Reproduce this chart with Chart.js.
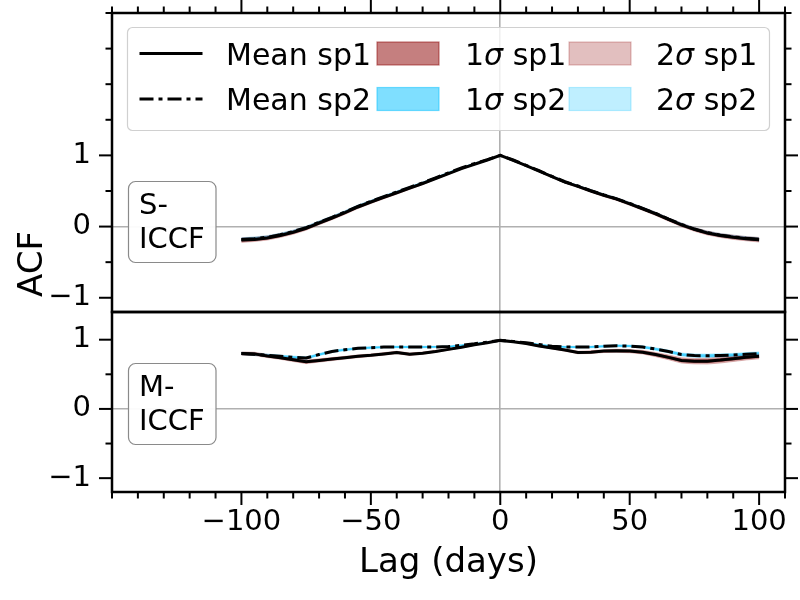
<!DOCTYPE html>
<html>
<head>
<meta charset="utf-8">
<script src="https://cdn.jsdelivr.net/npm/chart.js@4.4.1/dist/chart.umd.min.js"></script>
<style>
  html, body { margin: 0; padding: 0; background: #fff; }
  #wrap { position: relative; width: 800px; height: 600px; }
</style>
</head>
<body>
<div id="wrap"><canvas id="c" width="800" height="600"></canvas></div>
<script>
// ---------------- data ----------------
const lags = [-100,-95,-90,-85,-80,-75,-70,-65,-60,-55,-50,-45,-40,-35,-30,-25,-20,-15,-10,-5,0,
              5,10,15,20,25,30,35,40,45,50,55,60,65,70,75,80,85,90,95,100];

// S-ICCF panel
const sMean1 = [-0.19,-0.18,-0.16,-0.125,-0.08,-0.025,0.05,0.12,0.195,0.275,0.345,0.41,0.475,0.54,0.605,0.675,0.745,0.815,0.875,0.935,1.0,
                0.93,0.855,0.78,0.70,0.625,0.565,0.50,0.44,0.385,0.32,0.25,0.18,0.10,0.025,-0.04,-0.09,-0.125,-0.15,-0.17,-0.185];
const sMean2 = [-0.18,-0.17,-0.15,-0.115,-0.07,-0.015,0.06,0.13,0.205,0.285,0.355,0.42,0.485,0.55,0.615,0.685,0.755,0.825,0.885,0.94,1.0,
                0.935,0.86,0.785,0.705,0.63,0.57,0.505,0.445,0.39,0.325,0.255,0.185,0.105,0.03,-0.035,-0.085,-0.12,-0.145,-0.165,-0.18];
const sSig1 = [0.016,0.015,0.015,0.014,0.014,0.013,0.013,0.012,0.012,0.011,0.011,0.010,0.010,0.009,0.008,0.007,0.006,0.005,0.004,0.002,0.0,
               0.002,0.004,0.005,0.006,0.007,0.008,0.009,0.010,0.010,0.011,0.011,0.012,0.012,0.013,0.013,0.014,0.014,0.015,0.015,0.016];
const sSig2 = [0.012,0.012,0.011,0.011,0.010,0.010,0.010,0.009,0.009,0.009,0.008,0.008,0.008,0.007,0.006,0.005,0.005,0.004,0.003,0.002,0.0,
               0.002,0.003,0.004,0.005,0.005,0.006,0.007,0.008,0.008,0.008,0.009,0.009,0.009,0.010,0.010,0.010,0.011,0.011,0.012,0.012];

// M-ICCF panel
const mMean1 = [0.80,0.795,0.765,0.74,0.71,0.68,0.70,0.72,0.74,0.76,0.775,0.795,0.815,0.79,0.805,0.83,0.86,0.89,0.925,0.955,0.99,
                0.97,0.945,0.91,0.88,0.85,0.815,0.82,0.835,0.84,0.835,0.82,0.785,0.745,0.70,0.69,0.69,0.705,0.725,0.745,0.76];
const mMean2 = [0.80,0.79,0.775,0.76,0.745,0.735,0.785,0.83,0.855,0.875,0.885,0.893,0.895,0.894,0.894,0.896,0.90,0.92,0.94,0.965,0.99,
                0.975,0.955,0.93,0.905,0.895,0.893,0.895,0.905,0.912,0.908,0.895,0.865,0.83,0.785,0.77,0.768,0.772,0.778,0.79,0.80];
const mSig1 = [0.012,0.012,0.012,0.012,0.013,0.013,0.012,0.011,0.010,0.010,0.009,0.009,0.009,0.009,0.008,0.007,0.006,0.005,0.004,0.002,0.0,
               0.003,0.005,0.006,0.007,0.008,0.009,0.010,0.010,0.011,0.012,0.013,0.015,0.017,0.019,0.020,0.021,0.021,0.020,0.019,0.018];
const mSig2 = [0.010,0.010,0.009,0.009,0.009,0.009,0.008,0.008,0.007,0.007,0.007,0.006,0.006,0.006,0.006,0.005,0.005,0.004,0.003,0.002,0.0,
               0.002,0.003,0.004,0.005,0.005,0.006,0.006,0.007,0.007,0.007,0.008,0.009,0.010,0.011,0.012,0.012,0.012,0.012,0.012,0.012];

// ticks
const xMajorTicks = [-100,-50,0,50,100];
const xMinorTicks = [-150,-140,-130,-120,-110,-90,-80,-70,-60,-40,-30,-20,-10,10,20,30,40,60,70,80,90,110];
const yMajorTicks = [-1,0,1];
const sMinorTicks = [-0.5,0.5,1.5,2,2.5,3];
const mMinorTicks = [-0.5,0.5];
const panelNames = [['S-','ICCF'],['M-','ICCF']];
const legendRows = [
  ['Mean sp1','1','sp1','2','sp1'],
  ['Mean sp2','1','sp2','2','sp2']
];

// ---------------- styling ----------------
const RED1 = 'rgba(139,0,0,0.5)', RED2 = 'rgba(139,0,0,0.25)';
const BLUE1 = 'rgba(0,191,255,0.5)', BLUE2 = 'rgba(0,191,255,0.25)';
const DASHDOT = [14,5,4,5];
const FONT = '"DejaVu Sans", "Liberation Sans", sans-serif';

Chart.defaults.font.family = FONT;
Chart.defaults.color = '#000';

function pts(arr) { return lags.map((l, i) => ({x: l, y: arr[i]})); }
function band(mean, sig, k, color, axis, order) {
  const lo = lags.map((l, i) => ({x: l, y: mean[i] - k * sig[i]}));
  const hi = lags.map((l, i) => ({x: l, y: mean[i] + k * sig[i]}));
  return [
    {data: lo, yAxisID: axis, order, borderColor: color, borderWidth: 1, pointRadius: 0, fill: false},
    {data: hi, yAxisID: axis, order, borderColor: color, borderWidth: 1, pointRadius: 0, fill: '-1', backgroundColor: color}
  ];
}
function meanSet(arr, axis, dashed) {
  return {data: pts(arr), yAxisID: axis, order: 0, borderColor: '#000', borderWidth: 3,
          borderDash: dashed ? DASHDOT : [], pointRadius: 0, fill: false, tension: 0};
}

const datasets = [
  ...band(sMean1, sSig1, 2, RED2, 'yS', 3),
  ...band(sMean1, sSig1, 1, RED1, 'yS', 2),
  ...band(sMean2, sSig2, 2, BLUE2, 'yS', 3),
  ...band(sMean2, sSig2, 1, BLUE1, 'yS', 2),
  ...band(mMean1, mSig1, 2, RED2, 'yM', 3),
  ...band(mMean1, mSig1, 1, RED1, 'yM', 2),
  ...band(mMean2, mSig2, 2, BLUE2, 'yM', 3),
  ...band(mMean2, mSig2, 1, BLUE1, 'yM', 2),
  meanSet(sMean1, 'yS', false),
  meanSet(sMean2, 'yS', true),
  meanSet(mMean1, 'yM', false),
  meanSet(mMean2, 'yM', true)
];

const fmt = v => (v < 0 ? '\u2212' + Math.abs(v) : String(v));
const zeroGrid = {
  color: c => (c.tick && c.tick.value === 0 ? '#b0b0b0' : 'rgba(0,0,0,0)'),
  lineWidth: 1.6, drawTicks: false
};
function yScale(min, max, weight, stackWeight) {
  return {
    type: 'linear', position: 'left', stack: 'acf', stackWeight, weight,
    min, max, border: {display: false}, grid: zeroGrid,
    afterBuildTicks: s => { s.ticks = yMajorTicks.map(v => ({value: v})); },
    afterFit: s => { s.width = 112; s.paddingTop = 0; s.paddingBottom = 0; },
    ticks: {padding: 21, font: {size: 29}, callback: fmt, color: '#000'}
  };
}

function line(ctx, x1, y1, x2, y2) { ctx.beginPath(); ctx.moveTo(x1, y1); ctx.lineTo(x2, y2); ctx.stroke(); }
function rrect(ctx, x, y, w, h, r) {
  ctx.beginPath();
  ctx.moveTo(x + r, y); ctx.lineTo(x + w - r, y); ctx.arcTo(x + w, y, x + w, y + r, r);
  ctx.lineTo(x + w, y + h - r); ctx.arcTo(x + w, y + h, x + w - r, y + h, r);
  ctx.lineTo(x + r, y + h); ctx.arcTo(x, y + h, x, y + h - r, r);
  ctx.lineTo(x, y + r); ctx.arcTo(x, y, x + r, y, r); ctx.closePath();
}

const decor = {
  id: 'decor',
  afterDraw(chart) {
    const {ctx} = chart;
    const xs = chart.scales.x, yS = chart.scales.yS, yM = chart.scales.yM;
    const L = chart.chartArea.left, R = chart.chartArea.right;
    const MAJ = 13, MIN = 6.5;
    ctx.save();
    ctx.strokeStyle = '#000';
    // tick marks
    ctx.lineWidth = 2;
    const yTicks = (s, minors) => {
      yMajorTicks.forEach(v => { const p = s.getPixelForValue(v); line(ctx, L - MAJ, p, L, p); line(ctx, R, p, R + MAJ, p); });
      minors.forEach(v => { const p = s.getPixelForValue(v); line(ctx, L - MIN, p, L, p); line(ctx, R, p, R + MIN, p); });
    };
    yTicks(yS, sMinorTicks);
    yTicks(yM, mMinorTicks);
    xMajorTicks.forEach(v => { const p = xs.getPixelForValue(v); line(ctx, p, yS.top - MAJ, p, yS.top); line(ctx, p, yM.bottom, p, yM.bottom + MAJ); });
    xMinorTicks.forEach(v => { const p = xs.getPixelForValue(v); line(ctx, p, yS.top - MIN, p, yS.top); line(ctx, p, yM.bottom, p, yM.bottom + MIN); });
    // frames
    ctx.lineWidth = 2.5;
    [yS, yM].forEach(s => ctx.strokeRect(L, s.top, R - L, s.bottom - s.top));

    // panel labels
    ctx.font = '29px ' + FONT;
    ctx.textAlign = 'left'; ctx.textBaseline = 'alphabetic';
    [[yS, 181.5], [yM, 363.5]].forEach(([s, top], i) => {
      rrect(ctx, 128.5, top, 87.5, 81, 7);
      ctx.fillStyle = 'rgba(255,255,255,0.95)'; ctx.fill();
      ctx.strokeStyle = '#8a8a8a'; ctx.lineWidth = 1.2; ctx.stroke();
      ctx.fillStyle = '#000';
      ctx.fillText(panelNames[i][0], 139, top + 32);
      ctx.fillText(panelNames[i][1], 139, top + 66.5);
    });

    // legend
    rrect(ctx, 127.5, 27.5, 642, 103, 5);
    ctx.fillStyle = 'rgba(255,255,255,0.8)'; ctx.fill();
    ctx.strokeStyle = '#d0d0d0'; ctx.lineWidth = 1.2; ctx.stroke();
    const rowsY = [53.5, 99];
    const patchCols = [[RED1, RED2], [BLUE1, BLUE2]];
    ctx.font = '30px ' + FONT;
    rowsY.forEach((cy, r) => {
      // line handle
      ctx.strokeStyle = '#000'; ctx.lineWidth = 3;
      ctx.setLineDash(r === 0 ? [] : DASHDOT);
      line(ctx, 139.5, cy, 202.5, cy);
      ctx.setLineDash([]);
      // patches
      [[377, patchCols[r][0]], [569, patchCols[r][1]]].forEach(([px, col]) => {
        ctx.fillStyle = col; ctx.fillRect(px, cy - 11.5, 62, 23);
        ctx.strokeStyle = col; ctx.lineWidth = 1.2; ctx.strokeRect(px, cy - 11.5, 62, 23);
      });
      // texts
      const base = cy + 11;
      ctx.fillStyle = '#000';
      ctx.font = '30px ' + FONT;
      ctx.fillText(legendRows[r][0], 226, base);
      [[465, legendRows[r][1], legendRows[r][2]], [656, legendRows[r][3], legendRows[r][4]]].forEach(([tx, n, sp]) => {
        ctx.font = '30px ' + FONT;
        ctx.fillText(n, tx, base);
        let w = ctx.measureText(n).width;
        ctx.font = 'oblique 30px ' + FONT;
        ctx.fillText('\u03c3', tx + w, base);
        w += ctx.measureText('\u03c3').width;
        ctx.font = '30px ' + FONT;
        ctx.fillText(' ' + sp, tx + w, base);
      });
    });

    // y label
    ctx.save();
    ctx.translate(33, 264);
    ctx.rotate(-Math.PI / 2);
    ctx.font = '34px ' + FONT;
    ctx.textAlign = 'center'; ctx.textBaseline = 'middle';
    ctx.fillStyle = '#000';
    ctx.fillText('ACF', 0, 0);
    ctx.restore();
    ctx.restore();
  }
};

new Chart(document.getElementById('c'), {
  type: 'line',
  data: {datasets},
  plugins: [decor],
  options: {
    responsive: false, animation: false, devicePixelRatio: 1,
    layout: {padding: {top: 13, right: 15, left: 0, bottom: 0}},
    plugins: {legend: {display: false}, tooltip: {enabled: false}},
    elements: {line: {tension: 0}},
    scales: {
      x: {
        type: 'linear', position: 'bottom', min: -150, max: 110,
        border: {display: false}, grid: zeroGrid,
        afterBuildTicks: s => { s.ticks = xMajorTicks.map(v => ({value: v})); },
        afterFit: s => { s.height = 108; s.paddingLeft = 0; s.paddingRight = 0; },
        ticks: {padding: 13, font: {size: 29}, callback: fmt, color: '#000', maxRotation: 0, autoSkip: false},
        title: {display: true, text: 'Lag (days)', font: {size: 34}, color: '#000', padding: {top: 0, bottom: 16}}
      },
      yS: yScale(-1.2, 3, 2, 299),
      yM: yScale(-1.2, 1.4, 1, 180)
    }
  }
});
</script>
</body>
</html>
